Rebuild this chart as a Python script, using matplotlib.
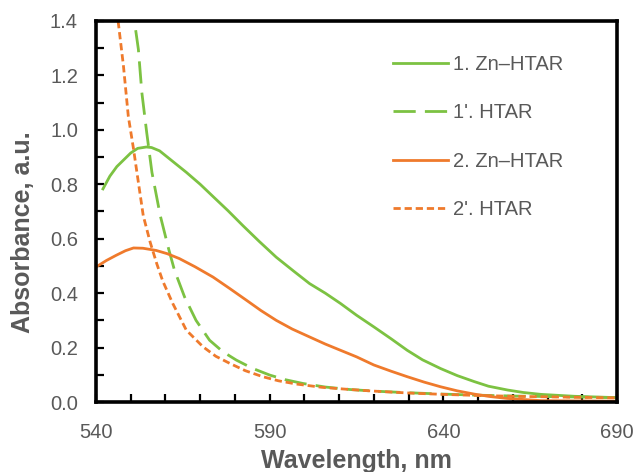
import matplotlib
matplotlib.use("Agg")
import matplotlib.pyplot as plt
from matplotlib.ticker import MultipleLocator, FixedLocator, FormatStrFormatter

plt.rcParams['font.family'] = ['Liberation Sans', 'DejaVu Sans']

# 1. Zn–HTAR
wl1 = [542, 544, 546, 548, 550, 552, 554.5, 556, 558.3, 562, 566, 570, 573.7, 578, 582.3, 587, 591.9, 597, 601.5,
       606, 610.4, 615, 620, 625, 629.6, 634, 639.2, 644, 648.9, 653, 658.5, 663, 668.1, 677.7, 690]
ab1 = [0.783, 0.83, 0.865, 0.89, 0.915, 0.932, 0.937, 0.935, 0.923, 0.885, 0.844, 0.80, 0.755, 0.703, 0.648, 0.59,
       0.532, 0.48, 0.435, 0.40, 0.362, 0.319, 0.276, 0.232, 0.19, 0.155, 0.123, 0.097, 0.075, 0.058, 0.044, 0.035,
       0.028, 0.021, 0.016]
# 1'. HTAR
wl1p = [550.3, 551.1, 552.2, 553.2, 554.6, 556.1, 558.5, 560.9, 562.6, 565.5, 568.8, 572.7, 576.5, 580.4, 585, 590,
        594.5, 599.6, 606, 613, 620, 630, 640, 650, 660, 670, 680, 690]
ab1p = [1.50, 1.396, 1.296, 1.137, 0.99, 0.844, 0.685, 0.563, 0.484, 0.386, 0.30, 0.227, 0.185, 0.154, 0.124, 0.099,
        0.082, 0.068, 0.055, 0.046, 0.04, 0.034, 0.029, 0.025, 0.022, 0.02, 0.018, 0.016]
# 2. Zn–HTAR
wl2 = [540, 543, 545.8, 548.5, 550.8, 553.5, 557.3, 560.5, 564, 568.5, 573.7, 578.5, 583.3, 587.5, 591.9, 596.5,
       601.5, 606, 610.4, 615, 620, 625, 629.6, 634.5, 639.2, 644, 648.9, 653.5, 658.5, 668.1, 677.7, 690]
ab2 = [0.496, 0.52, 0.539, 0.556, 0.566, 0.565, 0.557, 0.545, 0.527, 0.497, 0.459, 0.417, 0.374, 0.336, 0.30, 0.268,
       0.239, 0.213, 0.19, 0.166, 0.136, 0.113, 0.093, 0.073, 0.056, 0.041, 0.029, 0.02, 0.013, 0.005, 0.004, 0.003]
# 2'. HTAR
wl2p = [545.5, 546.4, 547.9, 549.3, 550.8, 552.2, 553.6, 555.6, 557.5, 559.2, 562.1, 566, 570.8, 574.5, 578.5, 583,
        588, 592.5, 597.7, 605, 613, 620, 630, 640, 650, 660, 670, 680, 690]
ab2p = [1.50, 1.396, 1.235, 1.05, 0.93, 0.807, 0.685, 0.587, 0.508, 0.445, 0.362, 0.264, 0.203, 0.168, 0.142, 0.115,
        0.093, 0.078, 0.066, 0.054, 0.046, 0.04, 0.033, 0.028, 0.024, 0.021, 0.019, 0.017, 0.015]

labels = ['1. Zn\u2013HTAR', "1'. HTAR", '2. Zn\u2013HTAR', "2'. HTAR"]
xticks = [540, 590, 640, 690]
green = '#7CC242'
orange = '#EF7A2C'
txt = '#595959'

fig = plt.figure(figsize=(6.35, 4.72), dpi=100)
ax = fig.add_axes([96/635, 1-402/472, (617-96)/635, (402-21)/472])

lw = 2.0
ax.plot(wl1, ab1, color=green, lw=lw, label=labels[0])
ax.plot(wl1p, ab1p, color=green, lw=lw, dashes=(8, 3.3), label=labels[1])
ax.plot(wl2, ab2, color=orange, lw=lw, label=labels[2])
ax.plot(wl2p, ab2p, color=orange, lw=lw, dashes=(2.6, 1.4), label=labels[3])

ax.set_xlim(540, 690)
ax.set_ylim(0, 1.4)
ax.xaxis.set_major_locator(FixedLocator(xticks))
ax.xaxis.set_minor_locator(MultipleLocator(10))
ax.yaxis.set_major_locator(MultipleLocator(0.2))
ax.yaxis.set_minor_locator(MultipleLocator(0.1))
ax.yaxis.set_major_formatter(FormatStrFormatter('%.1f'))
ax.tick_params(axis='both', which='both', direction='in', length=5.5, width=1.6,
               top=False, right=False, labelsize=14.5, labelcolor=txt, color='black')
ax.tick_params(axis='x', which='major', pad=15)
ax.tick_params(axis='y', which='major', pad=13)
for s in ax.spines.values():
    s.set_visible(True)
    s.set_linewidth(2.6)
    s.set_edgecolor('black')

ax.set_xlabel('Wavelength, nm', fontsize=18, fontweight='bold', color=txt, labelpad=5)
ax.set_ylabel('Absorbance, a.u.', fontsize=18, fontweight='bold', color=txt)
ax.yaxis.set_label_coords(-0.118, 0.446)

leg = ax.legend(loc='upper left', bbox_to_anchor=((393-96)/521, 0.91), frameon=False,
                fontsize=14.5, handlelength=2.73, handletextpad=0.25, labelspacing=1.45, borderpad=0,
                borderaxespad=0, labelcolor=txt)

fig.savefig('out.png', dpi=100)
